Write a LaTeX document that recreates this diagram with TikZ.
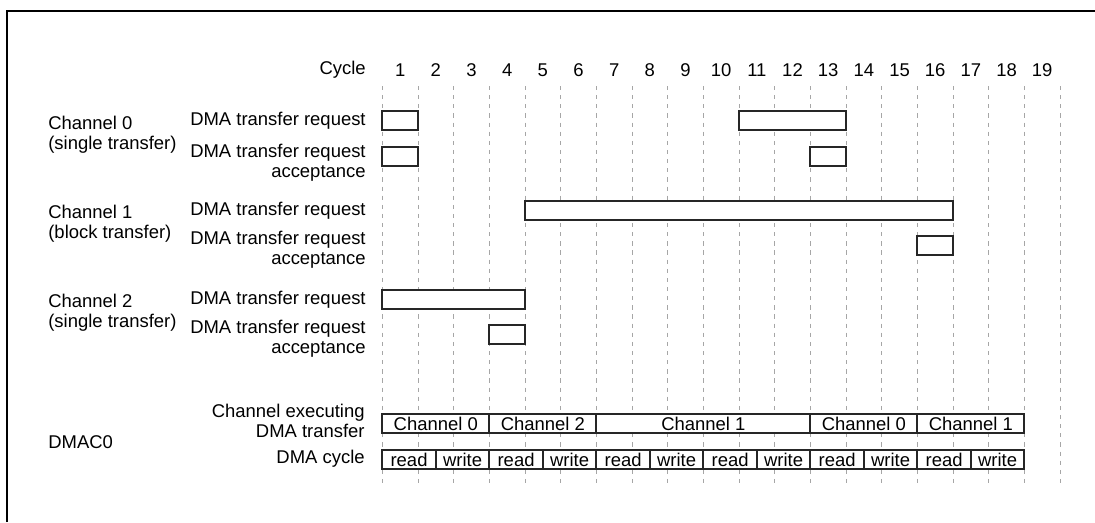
\documentclass[tikz,border=0pt]{standalone}
\usepackage{fontspec}
\setmainfont{Liberation Sans}
\usetikzlibrary{positioning}

\begin{document}
\begin{tikzpicture}[
    lbl/.style={font=\fontsize{10.5}{11.4}\selectfont, inner sep=0pt},
    rowlbl/.style={lbl, anchor=east, align=right},
    grplbl/.style={lbl, anchor=west, align=left},
    gridline/.style={gray!70, line width=0.4pt, dash pattern=on 2.4pt off 2.8pt},
    sig/.style={draw=black!85, line width=1.25pt},
    frame/.style={line width=1.1pt},
]
    \useasboundingbox (0,0) rectangle (21.9,-10.44);
    \draw[frame] (0.146,-10.44) -- (0.146,-0.22) -- (21.9,-0.22);

    % left column
    \node[grplbl] (grp0) at (0.96,-2.69) {Channel 0\\(single transfer)};
    \node[grplbl] (grp1) at (0.96,-4.47) {Channel 1\\(block transfer)};
    \node[grplbl] (grp2) at (0.96,-6.25) {Channel 2\\(single transfer)};
    \node[grplbl] (dmac) at (0.96,-8.84) {DMAC0};

    % signal names
    \node[rowlbl] (cyc) at (7.32,-1.40) {Cycle};
    \node[rowlbl] (req0) at (7.32,-2.41) {DMA transfer request};
    \node[rowlbl] (acc0) at (7.32,-3.25) {DMA transfer request\\acceptance};
    \node[rowlbl] (req1) at (7.32,-4.21) {DMA transfer request};
    \node[rowlbl] (acc1) at (7.32,-4.99) {DMA transfer request\\acceptance};
    \node[rowlbl] (req2) at (7.32,-5.99) {DMA transfer request};
    \node[rowlbl] (acc2) at (7.32,-6.77) {DMA transfer request\\acceptance};
    \node[rowlbl] (exe) at (7.30,-8.42) {Channel executing\\DMA transfer};
    \node[rowlbl] (dcy) at (7.30,-9.17) {DMA cycle};

    \begin{scope}[xshift=7.646cm, x=0.7134cm]
        \foreach \i in {0,...,19}
            \draw[gridline] (\i,-1.72) -- (\i,-9.74);
        \foreach \i in {1,...,19}
            \node[lbl] (c\i) at (\i-0.5,-1.40) {\i};

        % requests / acceptances
        \draw[sig, fill=white] (0,-2.22) rectangle (1,-2.60);
        \draw[sig, fill=white] (10,-2.22) rectangle (13,-2.60);
        \draw[sig, fill=white] (0,-2.94) rectangle (1,-3.32);
        \draw[sig, fill=white] (12,-2.94) rectangle (13,-3.32);
        \draw[sig, fill=white] (4,-4.02) rectangle (16,-4.40);
        \draw[sig, fill=white] (15,-4.72) rectangle (16,-5.10);
        \draw[sig, fill=white] (0,-5.80) rectangle (4,-6.18);
        \draw[sig, fill=white] (3,-6.50) rectangle (4,-6.88);

        % DMAC0
        \foreach \a/\b/\t [count=\n] in {0/3/Channel 0, 3/6/Channel 2, 6/12/Channel 1, 12/15/Channel 0, 15/18/Channel 1} {
            \draw[sig, fill=white] (\a,-8.28) rectangle (\b,-8.66);
            \node[lbl] (ch\n) at ({(\a+\b)/2},-8.47) {\t};
        }
        \foreach \k in {0,...,11} {
            \draw[sig, fill=white] (1.5*\k,-9.00) rectangle ++(1.5,-0.38);
            \node[lbl] (rw\k) at (1.5*\k+0.75,-9.19) {\ifodd\k write\else read\fi};
        }
    \end{scope}
\end{tikzpicture}
\end{document}
